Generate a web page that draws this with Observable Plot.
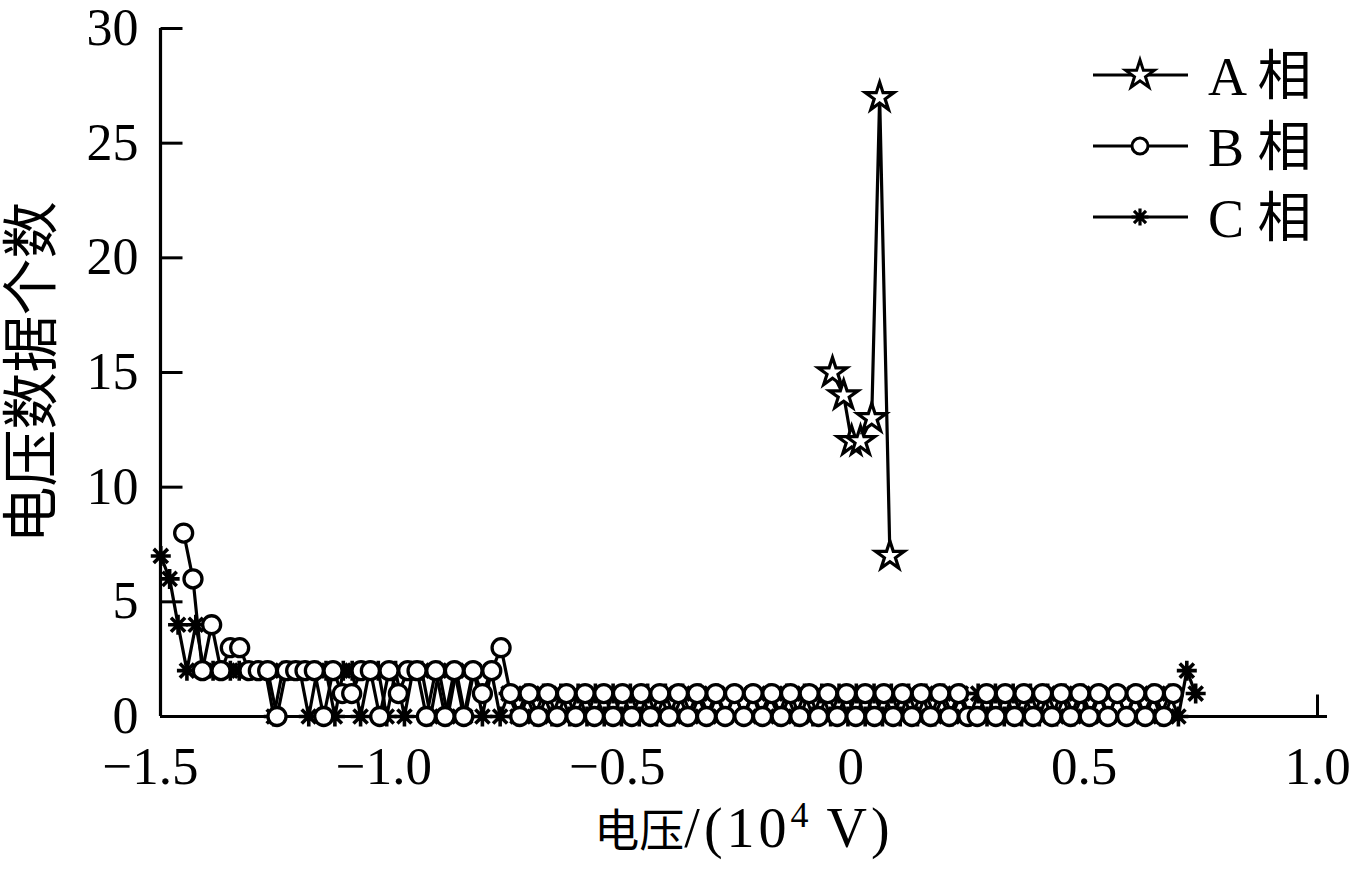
<!DOCTYPE html>
<html><head><meta charset="utf-8">
<script src="https://cdn.jsdelivr.net/npm/d3@7"></script>
<script src="https://cdn.jsdelivr.net/npm/@observablehq/plot@0.6"></script>
<style>
html,body{margin:0;padding:0;background:#fff;}
#wrap{position:relative;width:1362px;height:881px;}
#legend{position:absolute;left:1080px;top:40px;}
</style></head><body><div id="wrap"></div>
<script>
// ---- data ----
const phaseNames = ["A 相", "B 相", "C 相"];
const xTitle = "电压/(10\u2074 V)";
const yTitle = "电压数据个数";
const xTicks = [-1.5, -1.0, -0.5, 0, 0.5, 1.0];
const yTicks = [0, 5, 10, 15, 20, 25, 30];
const xDomain = [-1.4786, 1.0214];
const yDomain = [0, 30];

const aX = [-0.039, -0.015, 0.002, 0.021, 0.045, 0.062, 0.084];
const aY = [15, 14, 12, 12, 13, 27, 7];

const bX = [
-1.429,-1.409,-1.389,-1.369,-1.349,-1.329,-1.309,-1.289,-1.269,-1.249,
-1.229,-1.209,-1.189,-1.169,-1.149,-1.129,-1.109,-1.089,-1.069,-1.049,
-1.029,-1.009,-0.989,-0.969,-0.949,-0.929,-0.909,-0.889,-0.869,-0.849,
-0.829,-0.809,-0.789,-0.769,-0.749,-0.729,-0.709,-0.689,-0.669,-0.649,
-0.629,-0.609,-0.589,-0.569,-0.549,-0.529,-0.509,-0.489,-0.469,-0.449,
-0.429,-0.409,-0.389,-0.369,-0.349,-0.329,-0.309,-0.289,-0.269,-0.249,
-0.229,-0.209,-0.189,-0.169,-0.149,-0.129,-0.109,-0.089,-0.069,-0.049,
-0.029,-0.009,0.011,0.031,0.051,0.071,0.091,0.111,0.131,0.151,
0.171,0.191,0.211,0.231,0.251,0.271,0.291,0.311,0.331,0.351,
0.371,0.391,0.411,0.431,0.451,0.471,0.491,0.511,0.531,0.551,
0.571,0.591,0.611,0.631,0.651,0.671,0.691];
const bY = [
8,6,2,4,2,3,3,2,2,2,
0,2,2,2,2,0,2,1,1,2,
2,0,2,1,2,2,0,2,0,2,
0,2,1,2,3,1,0,1,0,1,
0,1,0,1,0,1,0,1,0,1,
0,1,0,1,0,1,0,1,0,1,
0,1,0,1,0,1,0,1,0,1,
0,1,0,1,0,1,0,1,0,1,
0,1,0,1,0,0,1,0,1,0,
1,0,1,0,1,0,1,0,1,0,
1,0,1,0,1,0,1];

const cX = [
-1.478,-1.459,-1.441,-1.422,-1.403,-1.385,-1.366,-1.348,-1.329,-1.310,
-1.292,-1.273,-1.254,-1.236,-1.217,-1.199,-1.180,-1.161,-1.143,-1.124,
-1.105,-1.087,-1.068,-1.050,-1.031,-1.012,-0.994,-0.975,-0.956,-0.938,
-0.919,-0.900,-0.882,-0.863,-0.845,-0.826,-0.807,-0.789,-0.770,-0.751,
-0.733,-0.714,-0.696,-0.677,-0.658,-0.640,-0.621,-0.602,-0.584,-0.565,
-0.547,-0.528,-0.509,-0.491,-0.472,-0.453,-0.435,-0.416,-0.397,-0.379,
-0.360,-0.342,-0.323,-0.304,-0.286,-0.267,-0.248,-0.230,-0.211,-0.193,
-0.174,-0.155,-0.137,-0.118,-0.099,-0.081,-0.062,-0.043,-0.025,-0.006,
0.012,0.031,0.050,0.068,0.087,0.106,0.124,0.143,0.161,0.180,
0.199,0.217,0.236,0.255,0.273,0.292,0.310,0.329,0.348,0.366,
0.385,0.404,0.422,0.441,0.459,0.478,0.497,0.515,0.534,0.553,
0.571,0.590,0.608,0.627,0.646,0.664,0.683,0.702,0.720,0.739];
const cY = [
7,6,4,2,4,2,2,2,2,2,
2,2,2,0,2,2,2,0,2,2,
0,2,2,0,2,2,0,2,0,2,
2,0,2,0,2,0,2,0,2,0,
1,0,1,0,1,0,1,0,1,0,
1,0,1,0,1,0,1,0,1,0,
1,0,1,0,1,0,1,0,1,0,
1,0,1,0,1,0,1,0,1,0,
1,0,1,0,1,0,1,0,1,0,
1,0,1,0,1,0,1,0,1,0,
1,0,1,0,1,0,1,0,1,0,
1,0,1,0,1,0,1,0,2,1];

// ---- build tables ----
const rowsA = aX.map((x, i) => ({x, y: aY[i]}));
const rowsB = bX.map((x, i) => ({x, y: bY[i]}));
const rowsC = cX.map((x, i) => ({x, y: cY[i]}));
const innerXTicks = xTicks.filter(d => d >= xDomain[0] && d <= xDomain[1]);

const serif = '"Liberation Serif","Times New Roman","Noto Sans CJK SC",serif';
const cjk = '"Liberation Serif","Noto Sans CJK SC",sans-serif';

// 8-armed asterisk symbol
const asterisk8 = {
  draw(ctx, size) {
    const r = Math.sqrt(size / Math.PI);
    for (let k = 0; k < 4; k++) {
      const a = k * Math.PI / 4;
      ctx.moveTo(r * Math.cos(a), r * Math.sin(a));
      ctx.lineTo(-r * Math.cos(a), -r * Math.sin(a));
    }
  }
};
// inward tick symbols
const tickRight = {draw(ctx) { ctx.moveTo(0, 0); ctx.lineTo(22, 0); }};
const tickUp = {draw(ctx) { ctx.moveTo(0, 0); ctx.lineTo(0, -22); }};

const fmtX = d => d === 0 ? "0" : (d < 0 ? "\u2212" : "") + Math.abs(d).toFixed(1);

const lineStyle = {x: "x", y: "y", stroke: "black", strokeWidth: 3.2};

const chart = Plot.plot({
  width: 1362, height: 881,
  marginLeft: 160, marginRight: 35, marginTop: 28, marginBottom: 165,
  style: {fontFamily: serif, background: "white", color: "black", overflow: "visible"},
  x: {domain: xDomain},
  y: {domain: yDomain},
  marks: [
    Plot.axisX({ticks: xTicks, tickFormat: fmtX, tickSize: 0, tickPadding: 30, fontSize: 53, fontFamily: serif, label: null}),
    Plot.axisY({ticks: yTicks, tickSize: 0, tickPadding: 22, fontSize: 52, fontFamily: serif, label: null}),
    Plot.dot(yTicks, {y: d => d, frameAnchor: "left", symbol: tickRight, r: 1, stroke: "black", strokeWidth: 3, fill: "none"}),
    Plot.dot(innerXTicks, {x: d => d, frameAnchor: "bottom", symbol: tickUp, r: 1, stroke: "black", strokeWidth: 3, fill: "none"}),
    Plot.ruleX([xDomain[0]], {stroke: "black", strokeWidth: 3.2}),
    Plot.ruleY([yDomain[0]], {stroke: "black", strokeWidth: 3.2}),
    Plot.text([xTitle], {frameAnchor: "bottom", dy: 130, fontSize: 46, fontFamily: cjk, fill: "black"}),
    Plot.text([yTitle], {frameAnchor: "left", textAnchor: "middle", dx: -128, rotate: -90, fontSize: 57, fontFamily: cjk, fill: "black"}),
    Plot.line(rowsC, lineStyle),
    Plot.line(rowsB, lineStyle),
    Plot.line(rowsA, lineStyle),
    Plot.dot(rowsC, {x: "x", y: "y", r: 10, symbol: asterisk8, fill: "none", stroke: "black", strokeWidth: 3.6}),
    Plot.dot(rowsB, {x: "x", y: "y", r: 9, symbol: "circle", fill: "white", stroke: "black", strokeWidth: 3.3}),
    Plot.dot(rowsA, {x: "x", y: "y", r: 9, symbol: "star", fill: "white", stroke: "black", strokeWidth: 3.2})
  ]
});
const wrap = document.getElementById("wrap");
wrap.appendChild(chart);

// style the x-axis title: CJK part, larger serif Latin part with superscript exponent
d3.select(chart).selectAll("text").filter(function() { return this.textContent === xTitle; })
  .each(function() {
    const t = d3.select(this).text(null);
    t.append("tspan").attr("font-family", cjk).attr("font-size", 45).text("电压");
    t.append("tspan").attr("font-family", serif).attr("font-size", 56).attr("letter-spacing", 4).text("/(10");
    t.append("tspan").attr("font-family", serif).attr("font-size", 36).attr("dy", -20).text("4");
    t.append("tspan").attr("font-family", serif).attr("font-size", 56).attr("dy", 20).attr("letter-spacing", 4).text("\u00a0V)");
  });

// ---- legend (overlay, upper right) ----
const legendItems = [
  {label: phaseNames[0], sym: d3.symbolStar, r: 9, fill: "white", sw: 3},
  {label: phaseNames[1], sym: d3.symbolCircle, r: 8, fill: "white", sw: 3},
  {label: phaseNames[2], sym: asterisk8, r: 8.5, fill: "none", sw: 3.2}
];
const lg = d3.create("svg").attr("id", "legend").attr("width", 275).attr("height", 210);
legendItems.forEach((it, k) => {
  const cy = 35 + k * 71;
  const g = lg.append("g").attr("transform", `translate(0,${cy})`);
  g.append("line").attr("x1", 13).attr("x2", 108).attr("y1", 0).attr("y2", 0)
    .attr("stroke", "black").attr("stroke-width", 3.2);
  g.append("path").attr("transform", "translate(60,0)")
    .attr("d", d3.symbol(it.sym, Math.PI * it.r * it.r)())
    .attr("fill", it.fill).attr("stroke", "black").attr("stroke-width", it.sw);
  g.append("text").attr("x", 128).attr("y", 20).attr("font-size", 54)
    .attr("font-family", cjk).attr("fill", "black").text(it.label);
});
wrap.appendChild(lg.node());
</script>
</body></html>
